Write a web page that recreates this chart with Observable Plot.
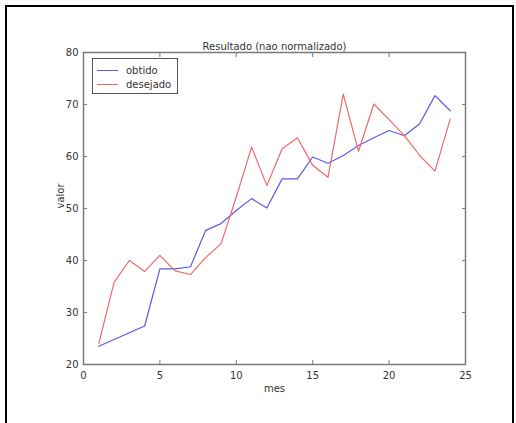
<!DOCTYPE html>
<html>
<head>
<meta charset="utf-8">
<script src="https://cdn.jsdelivr.net/npm/d3@7"></script>
<script src="https://cdn.jsdelivr.net/npm/@observablehq/plot@0.6"></script>
<style>
  html, body { margin: 0; padding: 0; background: #fff; }
  #wrap { position: relative; width: 516px; height: 423px; overflow: hidden; font-family: "DejaVu Sans", sans-serif; }
  #outer { position: absolute; left: 5px; top: 5px; width: 505px; height: 440px; border: 2px solid #000; border-bottom: none; }
  #chart { position: absolute; left: 0; top: 0; }
  #legend { position: absolute; left: 92px; top: 58px; width: 84px; height: 34px; border: 1.5px solid #555; background: #fff; font-size: 10px; color: #333; }
  .row { position: absolute; left: 0; height: 14px; display: flex; align-items: center; }
  .sw { width: 21px; height: 0; margin-left: 4px; margin-right: 8px; }
</style>
</head>
<body>
<div id="wrap">
  <div id="outer"></div>
  <div id="chart"></div>
  <div id="legend"></div>
</div>
<script>
const titleText = "Resultado (nao normalizado)";
const xLabel = "mes";
const yLabel = "valor";
const seriesNames = ["obtido", "desejado"];
const seriesColors = ["#5a5ae6", "#ee6a6a"];
const mes = [1, 2, 3, 4, 5, 6, 7, 8, 9, 10, 11, 12, 13, 14, 15, 16, 17, 18, 19, 20, 21, 22, 23, 24];
const obtido = [23.5, 24.8, 26.1, 27.4, 38.4, 38.4, 38.8, 45.8, 47.1, 49.6, 51.9, 50.1, 55.7, 55.7, 59.9, 58.7, 60.2, 62.1, 63.6, 65.0, 64.0, 66.3, 71.7, 68.8];
const desejado = [24.0, 35.8, 40.0, 37.9, 41.0, 38.0, 37.3, 40.6, 43.2, 52.2, 61.8, 54.4, 61.5, 63.6, 58.3, 56.0, 72.0, 61.0, 70.1, 67.1, 64.0, 60.2, 57.2, 67.2];
const xTicks = [0, 5, 10, 15, 20, 25];
const yTicks = [20, 30, 40, 50, 60, 70, 80];

const rows = [];
mes.forEach((m, i) => rows.push({mes: m, valor: obtido[i], serie: seriesNames[0]}));
mes.forEach((m, i) => rows.push({mes: m, valor: desejado[i], serie: seriesNames[1]}));

const textColor = "#333";
const axisColor = "#7a7a7a";

const chart = Plot.plot({
  width: 516,
  height: 423,
  marginLeft: 83,
  marginRight: 51,
  marginTop: 52,
  marginBottom: 59,
  style: {fontFamily: "DejaVu Sans, sans-serif", fontSize: "10px", color: textColor, background: "transparent"},
  x: {domain: [0, 25], ticks: xTicks},
  y: {domain: [20, 80], ticks: yTicks},
  color: {domain: seriesNames, range: seriesColors},
  marks: [
    Plot.line(rows, {x: "mes", y: "valor", z: "serie", stroke: "serie", strokeWidth: 1.2}),
    Plot.frame({stroke: axisColor, strokeWidth: 1.5}),
    Plot.axisX({anchor: "bottom", ticks: xTicks, tickSize: -4, tickPadding: 11, label: null, stroke: axisColor, fill: textColor}),
    Plot.axisX({anchor: "top", ticks: xTicks, tickSize: -4, tickFormat: () => "", label: null, stroke: axisColor}),
    Plot.axisY({anchor: "left", ticks: yTicks, tickSize: -4, tickPadding: 9, label: null, stroke: axisColor, fill: textColor}),
    Plot.axisY({anchor: "right", ticks: yTicks, tickSize: -4, tickFormat: () => "", label: null, stroke: axisColor}),
    Plot.text([titleText], {text: d => d, frameAnchor: "top", dy: -10, fill: textColor}),
    Plot.text([xLabel], {text: d => d, frameAnchor: "bottom", dy: 27, fill: textColor}),
    Plot.text([yLabel], {text: d => d, frameAnchor: "left", dx: -23, rotate: -90, fill: textColor})
  ]
});
document.getElementById("chart").appendChild(chart);

const legend = document.getElementById("legend");
seriesNames.forEach((name, i) => {
  const row = document.createElement("div");
  row.className = "row";
  row.style.top = (4 + i * 14) + "px";
  const sw = document.createElement("div");
  sw.className = "sw";
  sw.style.borderTop = "1.2px solid " + seriesColors[i];
  const label = document.createElement("span");
  label.textContent = name;
  row.appendChild(sw);
  row.appendChild(label);
  legend.appendChild(row);
});
</script>
</body>
</html>
